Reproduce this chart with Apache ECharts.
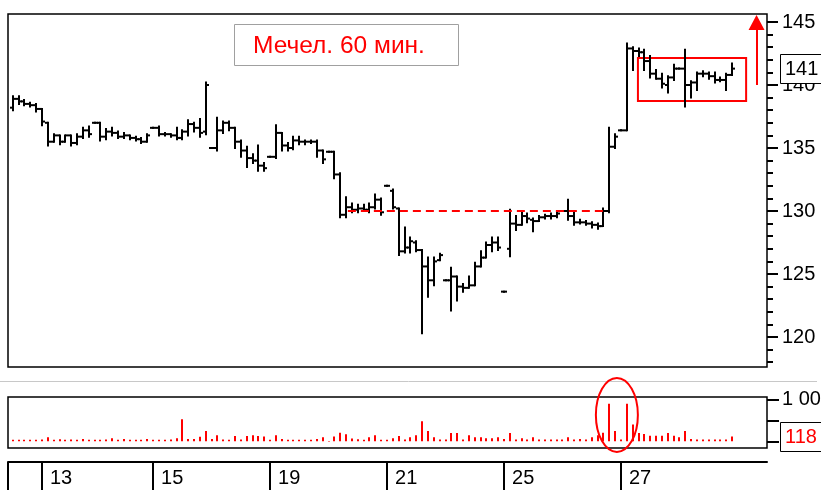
<!DOCTYPE html>
<html>
<head>
<meta charset="utf-8">
<script src="https://cdn.jsdelivr.net/npm/echarts@6/dist/echarts.min.js"></script>
<style>
  html, body { margin: 0; padding: 0; background: #fff; }
  #chart { width: 821px; height: 490px; }
</style>
</head>
<body>
<div id="chart"></div>
<script>
// day labels on the bottom strip and index of the first bar of those days
const labelDays = ['13', '15', '19', '21', '25', '27']
const labelStarts = [5, 24, 44, 64, 84, 104]

// hourly bars, Мечел
const opens = [
  138.2, 138.9, 138.7, 138.5, 138.4, 138.1, 137.0, 135.5, 136.0, 135.5,
  136.0, 135.4, 135.9, 136.4, 137.0, 137.0, 135.9, 136.3, 136.2, 135.9,
  136.0, 135.8, 135.7, 135.5, 136.6, 136.6, 136.1, 136.1, 136.0, 135.8,
  136.3, 136.9, 136.6, 136.3, 135.0, 135.0, 136.4, 137.0, 136.6, 135.5,
  134.8, 134.2, 134.0, 133.6, 134.3, 134.3, 136.2, 135.2, 135.0, 135.6,
  135.5, 135.5, 135.5, 134.8, 134.7, 134.7, 132.9, 129.7, 130.3, 130.1,
  130.2, 130.1, 130.3, 130.9, 132.0, 131.6, 130.2, 126.8, 127.1, 127.5,
  126.9, 125.6, 124.5, 126.1, 124.5, 124.5, 124.8, 124.0, 123.9, 124.1,
  125.6, 126.3, 127.3, 127.5, 123.6, 127.0, 129.0, 128.9, 129.6, 129.3,
  129.2, 129.5, 129.6, 129.6, 130.0, 130.0, 129.6, 129.1, 129.1, 129.0,
  128.9, 128.8, 130.0, 135.1, 136.4, 136.4, 142.9, 142.7, 142.6, 141.9,
  140.9, 140.5, 140.0, 140.6, 141.3, 141.3, 140.0, 140.2, 140.9, 140.9,
  140.7, 140.4, 140.4, 140.8
]
const highs = [
  139.1, 139.1, 138.8, 138.6, 138.5, 138.1, 137.0, 136.1, 136.0, 136.0,
  136.0, 136.1, 136.6, 136.7, 137.0, 137.0, 136.5, 136.6, 136.3, 136.2,
  136.0, 135.9, 135.8, 136.1, 136.6, 136.7, 136.2, 136.1, 136.6, 136.4,
  137.2, 137.0, 137.3, 140.2, 135.0, 137.4, 137.1, 137.1, 136.6, 135.6,
  135.1, 134.5, 135.2, 133.8, 134.3, 136.8, 136.2, 135.4, 135.9, 135.9,
  135.6, 135.6, 135.6, 134.8, 134.7, 134.7, 133.0, 131.1, 130.6, 130.5,
  130.5, 130.6, 131.3, 131.0, 132.0, 131.7, 130.2, 128.7, 127.9, 127.6,
  126.9, 126.3, 126.3, 126.6, 124.5, 125.5, 124.8, 124.2, 124.8, 125.9,
  126.8, 127.5, 127.9, 127.9, 123.6, 130.1, 129.6, 129.9, 129.8, 129.4,
  129.6, 129.7, 129.8, 129.9, 130.0, 130.9, 129.9, 129.3, 129.2, 129.1,
  129.0, 130.2, 136.6, 136.1, 136.4, 143.3, 143.0, 142.9, 142.8, 142.3,
  141.2, 140.9, 140.7, 141.6, 141.3, 142.8, 140.3, 141.0, 141.1, 141.0,
  141.0, 140.6, 140.9, 141.7
]
const lows = [
  138.0, 138.5, 138.4, 138.3, 137.9, 136.8, 135.2, 135.5, 135.3, 135.5,
  135.2, 135.3, 135.8, 135.9, 137.0, 135.6, 135.7, 136.0, 135.8, 135.8,
  135.7, 135.6, 135.4, 135.5, 136.6, 136.0, 136.0, 135.9, 135.7, 135.7,
  136.0, 136.3, 135.9, 136.1, 135.0, 134.8, 136.2, 136.4, 135.0, 134.3,
  133.5, 133.8, 133.2, 133.2, 134.3, 134.2, 134.8, 134.8, 134.9, 135.3,
  135.3, 135.4, 134.3, 133.8, 134.7, 132.6, 129.5, 129.5, 129.9, 129.9,
  130.0, 129.9, 130.2, 129.7, 132.0, 130.2, 126.5, 126.7, 126.7, 126.8,
  120.3, 123.2, 124.1, 126.1, 124.5, 122.1, 122.9, 123.6, 123.9, 124.1,
  125.6, 126.3, 126.8, 126.9, 123.6, 126.4, 128.5, 128.9, 129.1, 128.4,
  129.2, 129.4, 129.4, 129.5, 130.0, 129.3, 128.9, 129.0, 128.9, 128.7,
  128.6, 128.8, 129.9, 135.0, 136.4, 136.4, 141.2, 142.3, 141.2, 140.6,
  140.5, 139.8, 139.4, 140.4, 141.3, 138.3, 139.0, 139.6, 140.7, 140.5,
  140.2, 140.3, 139.6, 140.8
]
const closes = [
  138.9, 138.7, 138.5, 138.4, 138.1, 137.1, 135.5, 136.0, 135.5, 136.0,
  135.4, 135.9, 136.4, 136.1, 137.0, 135.9, 136.3, 136.2, 135.9, 136.0,
  135.8, 135.7, 135.5, 136.0, 136.6, 136.1, 136.1, 136.0, 135.8, 136.3,
  136.9, 136.6, 136.2, 140.0, 135.0, 136.4, 137.0, 136.6, 135.5, 134.8,
  134.2, 134.0, 133.6, 133.4, 134.3, 136.2, 135.2, 135.0, 135.6, 135.5,
  135.5, 135.5, 134.8, 134.1, 134.7, 132.9, 129.7, 130.3, 130.1, 130.2,
  130.1, 130.3, 130.9, 129.9, 132.0, 130.3, 126.8, 127.1, 127.6, 126.9,
  125.6, 124.5, 126.0, 126.5, 124.5, 124.8, 124.0, 123.9, 124.1, 125.6,
  126.3, 127.3, 127.5, 127.1, 123.6, 129.0, 128.9, 129.6, 129.4, 129.2,
  129.5, 129.6, 129.6, 129.8, 130.0, 129.6, 129.1, 129.1, 129.0, 128.9,
  128.8, 130.0, 135.1, 135.9, 136.4, 142.9, 142.7, 142.6, 141.9, 140.9,
  140.5, 140.1, 140.6, 141.3, 141.3, 140.0, 140.2, 140.9, 140.9, 140.7,
  140.4, 140.4, 140.8, 141.3
]
const volumes = [
  40, 40, 40, 40, 40, 45, 100, 40, 55, 40,
  45, 40, 60, 40, 40, 40, 45, 75, 40, 60,
  40, 40, 40, 60, 40, 40, 40, 45, 75, 530,
  60, 60, 110, 250, 60, 150, 45, 40, 130, 45,
  130, 150, 130, 120, 40, 150, 60, 40, 40, 40,
  40, 40, 60, 100, 10, 120, 210, 170, 70, 55,
  40, 100, 150, 40, 40, 75, 130, 45, 100, 150,
  480, 250, 100, 45, 45, 200, 200, 45, 150, 100,
  100, 75, 75, 100, 60, 200, 45, 75, 45, 100,
  45, 45, 45, 45, 45, 100, 45, 60, 45, 100,
  150, 210, 895, 250, 45, 895, 400, 200, 175, 135,
  135, 135, 200, 135, 100, 250, 60, 45, 45, 45,
  45, 45, 45, 118
]

const X_MIN = -0.814
const X_MAX = 128.97
const FONT = "'Liberation Sans', Arial, sans-serif"

const ohlcData = opens.map((o, i) => [i, o, highs[i], lows[i], closes[i]])
const volData = volumes.map((v, i) => [i, v])

function renderOhlc(params, api) {
  const x = api.value(0)
  const o = api.coord([x, api.value(1)])
  const h = api.coord([x, api.value(2)])
  const l = api.coord([x, api.value(3)])
  const c = api.coord([x, api.value(4)])
  const cx = Math.round(o[0])
  const st = { stroke: '#000', lineWidth: 2 }
  return {
    type: 'group',
    children: [
      { type: 'line', shape: { x1: cx, y1: h[1] - 1, x2: cx, y2: l[1] + 1 }, style: st },
      { type: 'line', shape: { x1: cx - 3, y1: o[1], x2: cx, y2: o[1] }, style: st },
      { type: 'line', shape: { x1: cx, y1: c[1], x2: cx + 3, y2: c[1] }, style: st }
    ]
  }
}

function renderVol(params, api) {
  const top = api.coord([api.value(0), api.value(1)])
  const base = api.coord([api.value(0), 0])
  const cx = Math.round(top[0])
  return {
    type: 'rect',
    shape: { x: cx - 1, y: top[1], width: 2, height: Math.max(base[1] - top[1], 1) },
    style: { fill: '#ff0000' }
  }
}

const noLine = { show: false, onZero: false }
const chart = echarts.init(document.getElementById('chart'))

chart.setOption({
  animation: false,
  backgroundColor: '#fff',
  grid: [
    // price: 118 .. 145
    { left: 8, top: 22, width: 759, height: 340.2, outerBoundsMode: 'none' },
    // volume: 0 .. 1000
    { left: 8, top: 399.3, width: 759, height: 42.2, outerBoundsMode: 'none' },
    // price labels / major ticks: 120 .. 145
    { left: 8, top: 22, width: 759, height: 315, outerBoundsMode: 'none' }
  ],
  xAxis: [
    { type: 'value', gridIndex: 0, min: X_MIN, max: X_MAX, show: false, axisLine: noLine },
    {
      type: 'value', gridIndex: 1, min: X_MIN, max: X_MAX, position: 'bottom', offset: 20.5,
      axisLine: { show: true, onZero: false, lineStyle: { color: '#000', width: 2 } },
      axisTick: { show: true, length: 28, customValues: [X_MIN].concat(labelStarts), lineStyle: { color: '#000', width: 2 } },
      axisLabel: {
        show: true, customValues: labelStarts, margin: 6, align: 'left', padding: [0, 0, 0, 8],
        fontFamily: FONT, fontSize: 20, color: '#000',
        formatter: (v) => labelDays[labelStarts.indexOf(Math.round(v))] || ''
      },
      splitLine: { show: false }
    },
    { type: 'value', gridIndex: 2, min: X_MIN, max: X_MAX, show: false, axisLine: noLine }
  ],
  yAxis: [
    {
      type: 'value', gridIndex: 0, position: 'right', min: 118, max: 145, interval: 1,
      axisLine: noLine,
      axisTick: { show: true, length: 6, lineStyle: { color: '#000', width: 2 } },
      axisLabel: { show: false },
      splitLine: { show: false }
    },
    {
      type: 'value', gridIndex: 1, position: 'right', min: 0, max: 1000, interval: 500,
      axisLine: noLine,
      axisTick: { show: true, length: 12, lineStyle: { color: '#000', width: 2 } },
      axisLabel: {
        show: true, margin: 15, fontFamily: FONT, fontSize: 20, color: '#000',
        formatter: (v) => (v === 1000 ? '1 000' : '')
      },
      splitLine: { show: false }
    },
    {
      type: 'value', gridIndex: 2, position: 'right', min: 120, max: 145, interval: 5,
      axisLine: noLine,
      axisTick: { show: true, length: 11, lineStyle: { color: '#000', width: 2 } },
      axisLabel: { show: true, margin: 15, fontFamily: FONT, fontSize: 20, color: '#000' },
      splitLine: { show: false }
    }
  ],
  series: [
    {
      type: 'custom',
      xAxisIndex: 0,
      yAxisIndex: 0,
      renderItem: renderOhlc,
      data: ohlcData,
      clip: false,
      encode: { x: 0, y: [1, 2, 3, 4] },
      markLine: {
        silent: true,
        label: { show: false },
        data: [
          [
            { coord: [57.3, 130.05], symbol: 'none', lineStyle: { color: '#ff0000', width: 2, type: [8, 5] } },
            { coord: [101, 130.05], symbol: 'none' }
          ],
          [
            { coord: [127.18, 140.0], symbol: 'none', lineStyle: { color: '#ff0000', width: 2, type: 'solid' } },
            { coord: [127.18, 144.96], symbol: 'triangle', symbolSize: [16, 15] }
          ]
        ]
      },
      markArea: {
        silent: true,
        itemStyle: { color: 'rgba(0,0,0,0)', borderColor: '#ff0000', borderWidth: 2 },
        data: [[{ coord: [106.9, 142.14] }, { coord: [125.4, 138.73] }]]
      }
    },
    {
      type: 'custom',
      xAxisIndex: 1,
      yAxisIndex: 1,
      renderItem: renderVol,
      data: volData,
      clip: true,
      encode: { x: 0, y: 1 }
    }
  ]
})

// frames and annotations: title box, last price / volume boxes, ellipse
const last = closes.length - 1
const axisX = chart.convertToPixel({ gridIndex: 0 }, [X_MAX, 130])[0]
const leftX = chart.convertToPixel({ gridIndex: 0 }, [X_MIN, 130])[0]
const pc = chart.convertToPixel({ gridIndex: 0 }, [last, closes[last]])
const pv = chart.convertToPixel({ gridIndex: 1 }, [last, volumes[last]])
const pe = chart.convertToPixel({ gridIndex: 1 }, [103.3, 630])
const frameW = axisX - leftX

chart.setOption({
  graphic: [
    { type: 'line', z: 50, shape: { x1: 0, y1: 381.5, x2: 817, y2: 381.5 }, style: { stroke: '#c8c8c8', lineWidth: 1 } },
    { type: 'rect', z: 60, shape: { x: leftX, y: 14, width: frameW, height: 353 }, style: { fill: 'none', stroke: '#000', lineWidth: 1.5 } },
    { type: 'rect', z: 60, shape: { x: leftX, y: 397, width: frameW, height: 51 }, style: { fill: 'none', stroke: '#000', lineWidth: 1.5 } },
    { type: 'rect', z: 100, shape: { x: 234.5, y: 24.5, width: 224, height: 41 }, style: { fill: '#fff', stroke: '#a0a0a0', lineWidth: 1 } },
    { type: 'text', z: 101, x: 253, y: 46, style: { text: 'Мечел. 60 мин.', fill: '#ff0000', font: '24.5px ' + FONT, verticalAlign: 'middle', align: 'left' } },
    { type: 'rect', z: 100, shape: { x: axisX + 13.5, y: Math.round(pc[1]) - 14.5, width: 60, height: 29 }, style: { fill: '#fff', stroke: '#000', lineWidth: 1 } },
    { type: 'text', z: 101, x: axisX + 18, y: Math.round(pc[1]), style: { text: String(Math.round(closes[last])), fill: '#000', font: '20px ' + FONT, verticalAlign: 'middle', align: 'left' } },
    { type: 'rect', z: 100, shape: { x: axisX + 13.5, y: Math.round(pv[1]) - 14.5, width: 60, height: 29 }, style: { fill: '#fff', stroke: '#000', lineWidth: 1 } },
    { type: 'text', z: 101, x: axisX + 18, y: Math.round(pv[1]), style: { text: String(volumes[last]), fill: '#ff0000', font: '20px ' + FONT, verticalAlign: 'middle', align: 'left' } },
    { type: 'ellipse', z: 100, shape: { cx: pe[0], cy: pe[1], rx: 21, ry: 37 }, style: { fill: 'none', stroke: '#ff0000', lineWidth: 2 } }
  ]
})
</script>
</body>
</html>
